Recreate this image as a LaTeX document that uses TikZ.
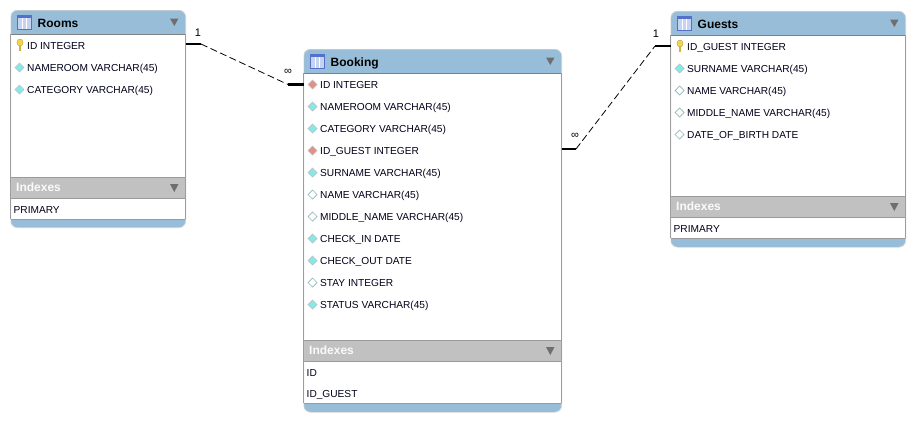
\documentclass[tikz,border=0pt]{standalone}
\usepackage{fontspec}
\setmainfont{Liberation Sans}
\newfontfamily\rowfont{Liberation Sans}
\definecolor{hdr}{HTML}{98BDD9}
\definecolor{band}{HTML}{C1C1C1}
\definecolor{frame}{HTML}{808080}
\definecolor{tri}{HTML}{6E6E6E}
\definecolor{cyanD}{HTML}{7FEBEB}
\definecolor{redD}{HTML}{EA8C80}
\definecolor{keyY}{HTML}{F5D545}
\definecolor{iconB}{HTML}{5470C8}
\definecolor{iconF}{HTML}{C5D3F2}
\definecolor{hollowE}{HTML}{8FB8B8}
\tikzset{
  x=1pt,y=-1pt,
  rowtext/.style={anchor=west,inner sep=0pt,text height=8pt,text depth=2pt,yshift=-0.65pt,font=\fontsize{10.15}{12}\selectfont\rowfont,text=black!90!blue},
  titletext/.style={anchor=west,inner sep=0pt,text height=9pt,text depth=3pt,yshift=-1.3pt,font=\fontsize{12}{13}\selectfont\bfseries},
  bandtext/.style={anchor=west,inner sep=0pt,text height=9pt,text depth=3pt,yshift=-1.3pt,font=\fontsize{12}{13}\selectfont\bfseries,text=white!92!band},
  cardlabel/.style={inner sep=0pt,font=\fontsize{11}{12}\selectfont},
  solidend/.style={line width=2.8pt,black},
  relline/.style={line width=0.8pt,black,dash pattern=on 7pt off 3.5pt},
}
% #1 name #2 title #3 left #4 top #5 right #6 band top #7 footer top #8 bottom
\newcommand{\ertable}[8]{%
  \begin{scope}
    \clip[rounded corners=7pt] (#3,#4) rectangle (#5,#8);
    \fill[white] (#3,#4) rectangle (#5,#8);
    \fill[hdr] (#3,#4) rectangle (#5,#4+24);
    \fill[band] (#3,#6) rectangle (#5,#6+21);
    \fill[hdr] (#3,#7) rectangle (#5,#8);
    \draw[frame,line width=0.7pt] (#3,#4+24) -- (#5,#4+24);
    \draw[frame!80,line width=0.7pt] (#3,#6) -- (#5,#6);
    \draw[frame!80,line width=0.7pt] (#3,#6+21) -- (#5,#6+21);
    \draw[frame!80,line width=0.7pt] (#3,#7) -- (#5,#7);
  \end{scope}
  \draw[frame,line width=1pt] (#3,#4+24) -- (#3,#7) (#5,#4+24) -- (#5,#7);
  \node[draw=frame!35,line width=0.6pt,rounded corners=7pt,inner sep=0pt,anchor=north west,
        minimum width=#5pt-#3pt,minimum height=#8pt-#4pt] (#1) at (#3,#4) {};
  % table icon
  \draw[iconB,fill=iconF,line width=0.8pt] (#3+7,#4+5.5) rectangle (#3+20.5,#4+19);
  \fill[iconB] (#3+7,#4+5.5) rectangle (#3+20.5,#4+7.5);
  \draw[white,line width=0.7pt] (#3+11.5,#4+8) -- (#3+11.5,#4+18.5) (#3+16,#4+8) -- (#3+16,#4+18.5);
  \node[titletext] (#1title) at (#3+27,#4+13.5) {#2};
  \node[bandtext] (#1indexes) at (#3+5.5,#6+10.5) {Indexes};
  \fill[tri] (#5-15.5,#4+8.5) -- (#5-7,#4+8.5) -- (#5-11.2,#4+16) -- cycle;
  \fill[tri] (#5-15.5,#6+7) -- (#5-7,#6+7) -- (#5-11.2,#6+15) -- cycle;
}
% #1 name #2 table left #3 centre y #4 text
\newcommand{\colnode}[4]{\node[rowtext] (#1) at (#2+16.5,#3) {#4};}
\newcommand{\diam}[4]{% left, y, fill, edge
  \draw[#4,fill=#3,line width=0.7pt] (#1+5.5,#2-5) -- (#1+10,#2-0.5) -- (#1+5.5,#2+4) -- (#1+1,#2-0.5) -- cycle;}
\newcommand{\keyicon}[2]{%
  \fill[keyY!85!black] (#1+8.5,#2) rectangle (#1+10.5,#2+5);
  \fill[keyY,draw=keyY!70!black,line width=0.3pt] (#1+9.5,#2-3.5) ellipse (3pt and 3.5pt);}
\newcommand{\idxnode}[4]{\node[rowtext] (#1) at (#2+3,#3) {#4};}
\begin{document}
\begin{tikzpicture}
\useasboundingbox (0,0) rectangle (915,421);
\fill[white] (0,0) rectangle (915,421);

% ---- Rooms
\ertable{rooms}{Rooms}{10.5}{10}{185.5}{177}{219}{227.5}
\keyicon{10.5}{46}
\colnode{rA}{10.5}{46}{ID INTEGER}
\diam{10.5+3.5}{68}{cyanD}{frame!50}
\colnode{rB}{10.5}{68}{NAMEROOM VARCHAR(45)}
\diam{10.5+3.5}{90}{cyanD}{frame!50}
\colnode{rC}{10.5}{90}{CATEGORY VARCHAR(45)}
\idxnode{rI}{10.5}{210}{PRIMARY}

% ---- Booking
\ertable{booking}{Booking}{303.5}{49}{561.5}{340}{403}{412}
\diam{303.5+3.5}{85}{redD}{frame!50}
\colnode{bA}{303.5}{85}{ID INTEGER}
\diam{303.5+3.5}{107}{cyanD}{frame!50}
\colnode{bB}{303.5}{107}{NAMEROOM VARCHAR(45)}
\diam{303.5+3.5}{129}{cyanD}{frame!50}
\colnode{bC}{303.5}{129}{CATEGORY VARCHAR(45)}
\diam{303.5+3.5}{151}{redD}{frame!50}
\colnode{bD}{303.5}{151}{ID\_GUEST INTEGER}
\diam{303.5+3.5}{173}{cyanD}{frame!50}
\colnode{bE}{303.5}{173}{SURNAME VARCHAR(45)}
\diam{303.5+3.5}{195}{white}{hollowE}
\colnode{bF}{303.5}{195}{NAME VARCHAR(45)}
\diam{303.5+3.5}{217}{white}{hollowE}
\colnode{bG}{303.5}{217}{MIDDLE\_NAME VARCHAR(45)}
\diam{303.5+3.5}{239}{cyanD}{frame!50}
\colnode{bH}{303.5}{239}{CHECK\_IN DATE}
\diam{303.5+3.5}{261}{cyanD}{frame!50}
\colnode{bJ}{303.5}{261}{CHECK\_OUT DATE}
\diam{303.5+3.5}{283}{white}{hollowE}
\colnode{bK}{303.5}{283}{STAY INTEGER}
\diam{303.5+3.5}{305}{cyanD}{frame!50}
\colnode{bL}{303.5}{305}{STATUS VARCHAR(45)}
\idxnode{bI}{303.5}{373}{ID}
\idxnode{bII}{303.5}{394}{ID\_GUEST}

% ---- Guests
\ertable{guests}{Guests}{670.5}{11}{905.5}{196}{238}{247}
\keyicon{670.5}{47}
\colnode{gA}{670.5}{47}{ID\_GUEST INTEGER}
\diam{670.5+3.5}{69}{cyanD}{frame!50}
\colnode{gB}{670.5}{69}{SURNAME VARCHAR(45)}
\diam{670.5+3.5}{91}{white}{hollowE}
\colnode{gC}{670.5}{91}{NAME VARCHAR(45)}
\diam{670.5+3.5}{113}{white}{hollowE}
\colnode{gD}{670.5}{113}{MIDDLE\_NAME VARCHAR(45)}
\diam{670.5+3.5}{135}{white}{hollowE}
\colnode{gE}{670.5}{135}{DATE\_OF\_BIRTH DATE}
\idxnode{gI}{670.5}{229}{PRIMARY}

% ---- Relationships
\coordinate (r0) at (185.5,44);
\coordinate (r1) at (201,44);
\coordinate (r2) at (288,84.5);
\coordinate (r3) at (303.5,84.5);
\draw[solidend] (r0) -- (r1);
\draw[relline] (r1) -- (r2);
\draw[solidend] (r2) -- (r3);
\node[cardlabel] (rone) at (198,33) {1};
\node[cardlabel] (rinf) at (288,72) {∞};

\coordinate (g0) at (561.5,149);
\coordinate (g1) at (576,149);
\coordinate (g2) at (655,46);
\coordinate (g3) at (670.5,46);
\draw[solidend] (g0) -- (g1);
\draw[relline] (g1) -- (g2);
\draw[solidend] (g2) -- (g3);
\node[cardlabel] (gone) at (656,34) {1};
\node[cardlabel] (ginf) at (575,136) {∞};
\end{tikzpicture}
\end{document}
